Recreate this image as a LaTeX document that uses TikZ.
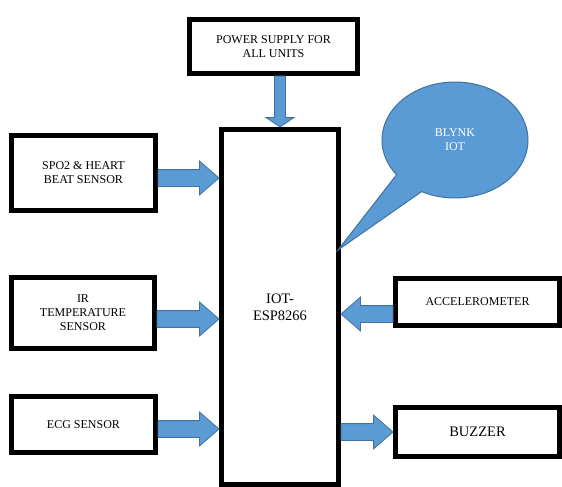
\documentclass[tikz,border=0pt]{standalone}
\usepackage{fontspec}
\setmainfont{Liberation Serif}
\usetikzlibrary{shapes.arrows,shapes.callouts,calc}

\definecolor{arrowblue}{HTML}{5B9BD5}
\definecolor{arrowedge}{HTML}{41719C}

% block arrow from one anchor to another
\newcommand{\blockto}[3]{%
  \path let \p1=#2, \p2=#3, \n1={veclen(\x2-\x1,\y2-\y1)} in
    node[#1, minimum height=\n1] at (\p1) {};}

\begin{document}
\begin{tikzpicture}[x=1pt, y=-1pt,
					unitbox/.style={rectangle,
					line width=5pt,
					draw=black,
					fill=white,
					align=center,
					inner sep=2pt,
					font=\fontsize{12}{14}\selectfont},
					bigtext/.style={font=\fontsize{14.5}{17}\selectfont},
					blockarrow/.style={single arrow,
					draw=arrowedge,
					fill=arrowblue,
					line width=0.8pt,
					inner sep=8pt,
					outer sep=0pt,
					single arrow head extend=8.5pt,
					single arrow tip angle=82,
					anchor=tail},
					powerarrow/.style={blockarrow,
					inner sep=5pt,
					single arrow head extend=8.5pt,
					single arrow tip angle=112,
					rotate=-90},
					balloon/.style={ellipse callout,
					draw=arrowedge,
					fill=arrowblue,
					line width=1pt,
					text=white,
					align=center,
					inner sep=0pt,
					minimum width=146pt,
					minimum height=116pt,
					callout pointer arc=26,
					font=\fontsize{12}{14}\selectfont}
					]

\useasboundingbox (0,0) rectangle (562,487);

%units
\node[unitbox, minimum width=168pt, minimum height=54pt] (pwr) at (273.5,46.5) {POWER SUPPLY FOR\\ALL UNITS};
\node[unitbox, bigtext, minimum width=117pt, minimum height=355pt] (esp) at (280,307) {IOT-\\ESP8266};
\node[unitbox, minimum width=144pt, minimum height=75pt] (spo) at (83.5,173) {SPO2 \& HEART\\BEAT SENSOR};
\node[unitbox, minimum width=143pt, minimum height=71pt] (irt) at (83,313) {IR\\TEMPERATURE\\SENSOR};
\node[unitbox, minimum width=144pt, minimum height=56pt] (ecg) at (83.5,424.5) {ECG SENSOR};
\node[unitbox, minimum width=164pt, minimum height=47pt] (acc) at (477.5,302) {ACCELEROMETER};
\node[unitbox, bigtext, minimum width=164pt, minimum height=49pt] (buz) at (477.5,432) {BUZZER};

%arrows into the board
\blockto{powerarrow}{(pwr.south -| esp.north)}{(esp.north)}
\blockto{blockarrow}{([yshift=-5pt]spo.east)}{([yshift=-5pt]spo.east -| esp.west)}
\blockto{blockarrow}{([yshift=-6pt]irt.east)}{([yshift=-6pt]irt.east -| esp.west)}
\blockto{blockarrow}{([yshift=-4.5pt]ecg.east)}{([yshift=-4.5pt]ecg.east -| esp.west)}
\blockto{blockarrow, rotate=180}{([yshift=-12pt]acc.west)}{([yshift=-12pt]acc.west -| esp.east)}

%arrow out of the board
\blockto{blockarrow}{(buz.west -| esp.east)}{(buz.west)}

%cloud
\coordinate (blynktip) at (338,250);
\node[balloon, callout absolute pointer={(blynktip)}] (blynk) at (455,140) {BLYNK\\IOT};

\end{tikzpicture}
\end{document}
